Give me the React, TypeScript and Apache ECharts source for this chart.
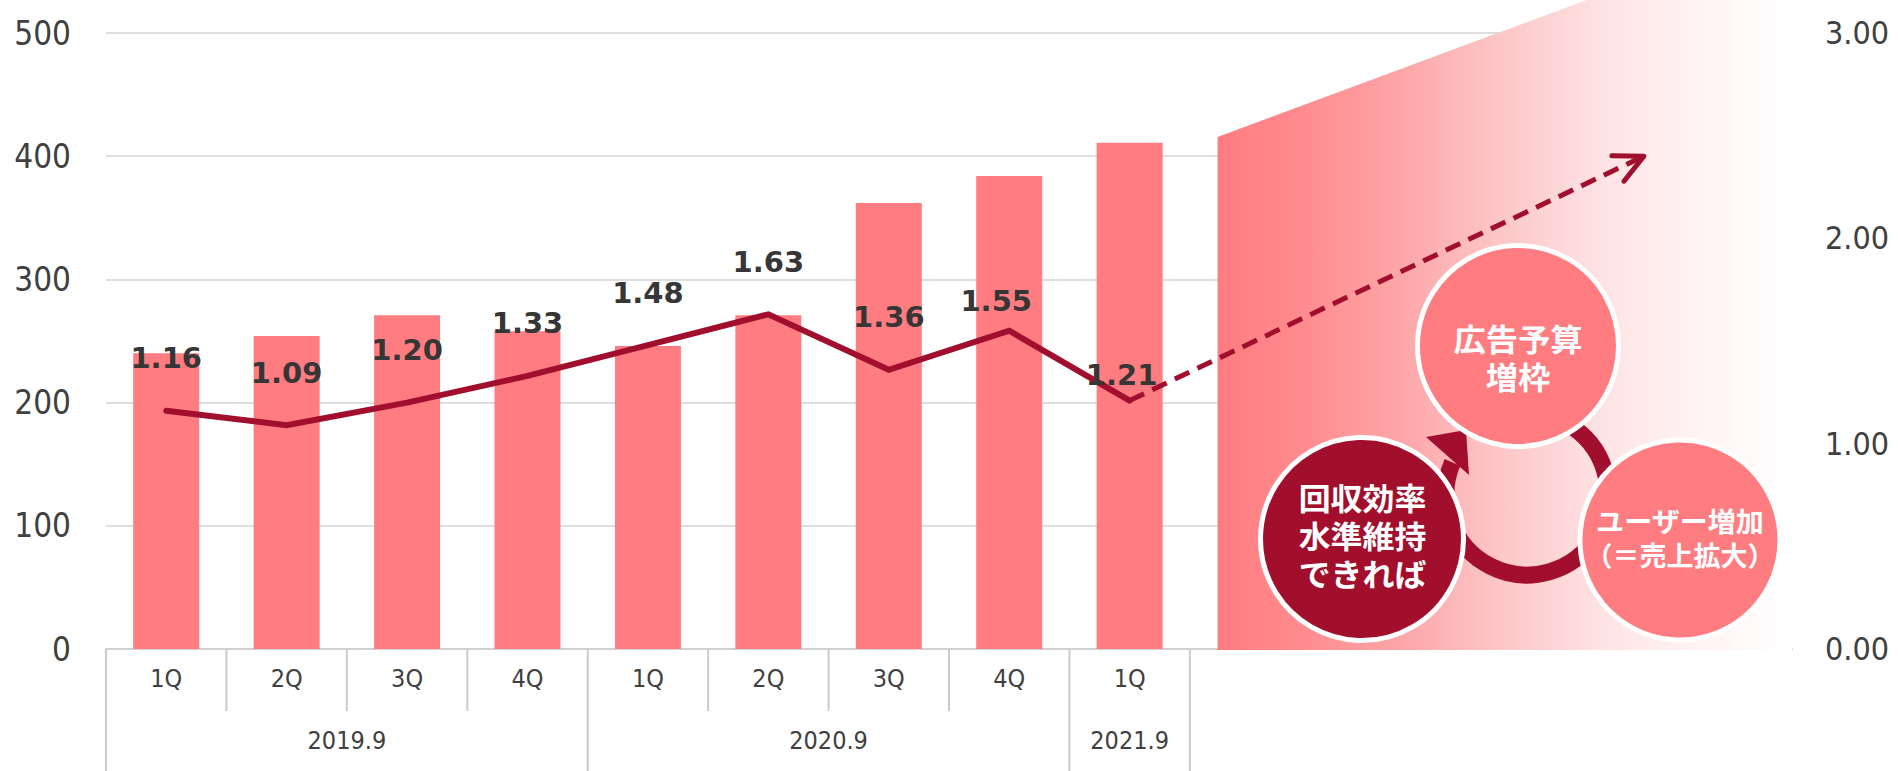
import React, { useEffect, useRef } from "react";
import * as echarts from "echarts";

// ---------- data ----------
const quarterLabels = ["1Q", "2Q", "3Q", "4Q", "1Q", "2Q", "3Q", "4Q", "1Q"];
const fiscalYearLabels = ["2019.9", "2020.9", "2021.9"];
const quartersInYear = [4, 4, 1];
const barValues = [240, 254, 271, 258, 246, 271, 362, 384, 411];
const lineValues = [1.16, 1.09, 1.2, 1.33, 1.48, 1.63, 1.36, 1.55, 1.21];
const projectionFrom = [8, 1.21];
const projectionTo = [12.27, 2.4];
const emptySlots = 5;
const leftAxisMin = 0;
const leftAxisMax = 500;
const leftAxisStep = 100;
const rightAxisMin = 0;
const rightAxisMax = 3;
const rightAxisStep = 1;
const cycleTopText = ["広告予算", "増枠"];
const cycleLeftText = ["回収効率", "水準維持", "できれば"];
const cycleRightText = ["ユーザー増加", "（＝売上拡大）"];

// ---------- style tweaks ----------
const labelDistance = [37, 37, 37, 37, 37, 37, 37, 14, 10];
const labelShiftX = [0, 0, 0, 0, 0, 0, 0, -13, -8];

const NUM_FONT = "'DejaVu Sans Condensed', 'DejaVu Sans', sans-serif";
const CJK_FONT = "'Noto Sans CJK JP', 'Noto Sans CJK SC', sans-serif";
const BAR = "#FF7C80";
const DARK = "#A20E2E";
const AXIS_TEXT = "#404040";

export default function App() {
  const ref = useRef<HTMLDivElement>(null);

  useEffect(() => {
    if (!ref.current) return;
    const chart = echarts.init(ref.current, undefined, { renderer: "svg" });
    const slotCount = quarterLabels.length + emptySlots;
    const slots = Array.from({ length: slotCount }, (_, i) => "slot" + i);

    const option: any = {
      animation: false,
      grid: { left: 106, right: 106, top: 33, bottom: 122, containLabel: false },
      xAxis: [
        {
          type: "category",
          data: slots,
          boundaryGap: true,
          axisLine: { show: true, lineStyle: { color: "#d0d0d0", width: 2 } },
          axisTick: { show: false },
          splitLine: { show: false },
          axisLabel: {
            interval: 0,
            margin: 17,
            color: AXIS_TEXT,
            fontSize: 25,
            fontFamily: NUM_FONT,
            formatter: (_v: string, i: number) => quarterLabels[i] ?? "",
          },
        },
        { type: "value", min: -0.5, max: slotCount - 0.5, show: false },
      ],
      yAxis: [
        {
          type: "value",
          min: leftAxisMin,
          max: leftAxisMax,
          interval: leftAxisStep,
          axisLine: { show: false },
          axisTick: { show: false },
          splitLine: { lineStyle: { color: "#dedede", width: 2 } },
          axisLabel: { margin: 35, color: AXIS_TEXT, fontSize: 33, fontFamily: NUM_FONT },
        },
        {
          type: "value",
          position: "right",
          min: rightAxisMin,
          max: rightAxisMax,
          interval: rightAxisStep,
          axisLine: { show: false },
          axisTick: { show: false },
          splitLine: { show: false },
          axisLabel: {
            margin: 33,
            color: AXIS_TEXT,
            fontSize: 32,
            fontFamily: NUM_FONT,
            formatter: (v: number) => v.toFixed(2),
          },
        },
      ],
      series: [
        {
          type: "bar",
          xAxisIndex: 0,
          yAxisIndex: 0,
          data: barValues,
          barWidth: 66,
          itemStyle: { color: BAR },
          z: 2,
        },
        {
          type: "line",
          xAxisIndex: 0,
          yAxisIndex: 1,
          data: lineValues.map((v, i) => ({
            value: v,
            label: { distance: labelDistance[i], offset: [labelShiftX[i], 0] },
          })),
          symbol: "circle",
          symbolSize: 2,
          itemStyle: { color: "rgba(0,0,0,0)" },
          lineStyle: { color: DARK, width: 6, cap: "round", join: "miter" },
          label: {
            show: true,
            position: "top",
            color: "#363636",
            fontSize: 29,
            fontWeight: "bold",
            fontFamily: "'DejaVu Sans', sans-serif",
            formatter: (p: any) => Number(p.value).toFixed(2),
          },
          z: 4,
        },
        {
          type: "line",
          xAxisIndex: 1,
          yAxisIndex: 1,
          data: [projectionFrom, projectionTo],
          symbol: "none",
          lineStyle: { color: DARK, width: 5, type: [16, 9] },
          z: 3,
        },
      ],
    };
    chart.setOption(option);

    // ---------- computed decorations ----------
    const cx = (i: number) => chart.convertToPixel({ xAxisIndex: 0 }, i) as number;
    const band = cx(1) - cx(0);
    const boundary = (i: number) => cx(0) - band / 2 + i * band;
    const axisY = chart.convertToPixel({ yAxisIndex: 0 }, 0) as number;
    const bottomY = 771;

    const yearStarts: number[] = [0];
    quartersInYear.forEach((n, k) => yearStarts.push(yearStarts[k] + n));

    const graphics: any[] = [];
    for (let i = 0; i <= quarterLabels.length; i++) {
      const full = yearStarts.includes(i);
      const x = boundary(i);
      graphics.push({
        type: "line",
        z: 5,
        shape: { x1: x, y1: axisY, x2: x, y2: full ? bottomY : axisY + 62 },
        style: { stroke: "#cbcbcb", lineWidth: 2 },
      });
    }
    fiscalYearLabels.forEach((t, k) => {
      const x = (boundary(yearStarts[k]) + boundary(yearStarts[k + 1])) / 2;
      graphics.push({
        type: "text",
        z: 5,
        x,
        y: axisY + 91,
        style: {
          text: t,
          fill: AXIS_TEXT,
          fontSize: 25,
          fontFamily: NUM_FONT,
          align: "center",
          verticalAlign: "middle",
        },
      });
    });

    // gradient backdrop
    const gx0 = boundary(quarterLabels.length) + 0.23 * band;
    const gx1 = boundary(slotCount);
    graphics.push({
      type: "polygon",
      z: 1,
      shape: {
        points: [
          [gx0, 137],
          [gx0 + 372, -1],
          [gx1, -1],
          [gx1, axisY + 1],
          [gx0, axisY + 1],
        ],
      },
      style: {
        fill: new echarts.graphic.LinearGradient(0, 0, 1, 0, [
          { offset: 0, color: "#FF7C80" },
          { offset: 0.14, color: "#FF8A8D" },
          { offset: 0.32, color: "#FDA6A8" },
          { offset: 0.49, color: "#FDC6C7" },
          { offset: 0.67, color: "#FEE3E4" },
          { offset: 0.84, color: "#FFF4F4" },
          { offset: 1, color: "#FFFFFF" },
        ]),
      },
    });

    // arrow head of the projection
    const p0 = chart.convertToPixel({ seriesIndex: 2 }, projectionFrom) as number[];
    const p1 = chart.convertToPixel({ seriesIndex: 2 }, projectionTo) as number[];
    const ang = Math.atan2(p1[1] - p0[1], p1[0] - p0[0]) + Math.PI;
    const spread = (26 * Math.PI) / 180;
    const len = 32;
    graphics.push({
      type: "polyline",
      z: 6,
      shape: {
        points: [
          [p1[0] + len * Math.cos(ang + spread), p1[1] + len * Math.sin(ang + spread)],
          [p1[0], p1[1]],
          [p1[0] + len * Math.cos(ang - spread), p1[1] + len * Math.sin(ang - spread)],
        ],
      },
      style: { stroke: DARK, lineWidth: 5, lineCap: "round", lineJoin: "round", fill: null },
    });

    // cycle diagram
    graphics.push({
      type: "arc",
      z: 10,
      shape: {
        cx: 1527,
        cy: 494,
        r: 81,
        startAngle: (-55 * Math.PI) / 180,
        endAngle: (203 * Math.PI) / 180,
        clockwise: true,
      },
      style: { stroke: DARK, lineWidth: 17, fill: null },
    });
    graphics.push({
      type: "polygon",
      z: 10,
      shape: { points: [[1426, 437], [1466, 430], [1469, 475]] },
      style: { fill: DARK },
    });
    const circles = [
      { cx: 1518, cy: 346, r: 100.5, fill: BAR },
      { cx: 1362, cy: 539, r: 101.5, fill: "#A10F2D" },
      { cx: 1680, cy: 540, r: 100, fill: BAR },
    ];
    circles.forEach((c) =>
      graphics.push({
        type: "circle",
        z: 11,
        shape: { cx: c.cx, cy: c.cy, r: c.r },
        style: { fill: c.fill, stroke: "#ffffff", lineWidth: 5 },
      })
    );
    const addText = (t: string, x: number, y: number, size: number, sx: number) =>
      graphics.push({
        type: "text",
        z: 12,
        x,
        y,
        scaleX: sx,
        style: {
          text: t,
          fill: "#ffffff",
          fontSize: size,
          fontWeight: "bold",
          fontFamily: CJK_FONT,
          align: "center",
          verticalAlign: "middle",
        },
      });
    addText(cycleTopText[0], 1518, 337.5, 31, 1.04);
    addText(cycleTopText[1], 1518, 375, 31, 1.04);
    addText(cycleLeftText[0], 1362.5, 497, 31, 1.03);
    addText(cycleLeftText[1], 1362.5, 535, 31, 1.03);
    addText(cycleLeftText[2], 1362.5, 573, 31, 1.03);
    addText(cycleRightText[0], 1680, 520, 27, 1.04);
    addText(cycleRightText[1], 1680, 554, 27, 1.0);

    chart.setOption({ graphic: graphics });

    return () => chart.dispose();
  }, []);

  return (
    <div
      ref={ref}
      style={{ position: "absolute", left: 0, top: 0, width: 1898, height: 771, background: "#fff" }}
    />
  );
}
